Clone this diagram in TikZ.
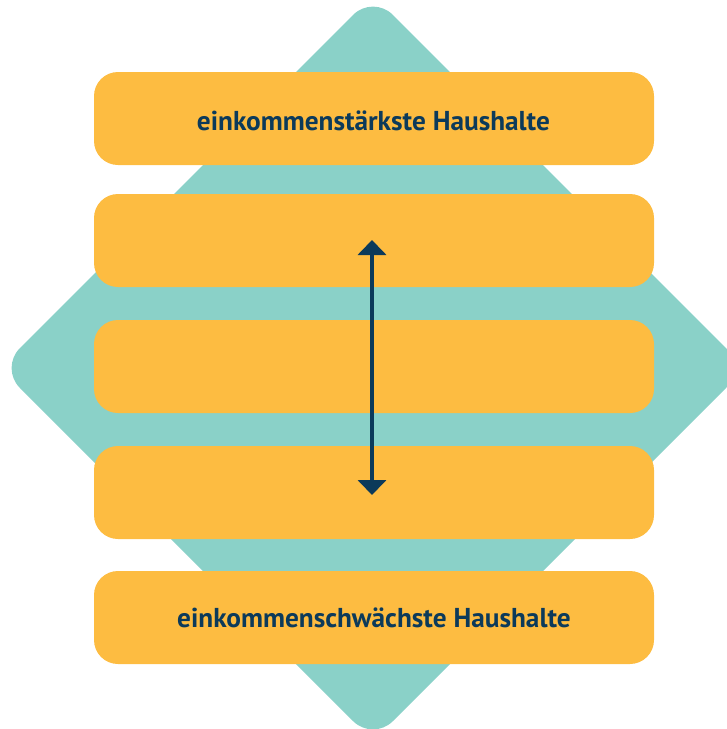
\documentclass[tikz,border=0pt]{standalone}
\usepackage{fontspec}
\setmainfont{PT Sans}
\usetikzlibrary{arrows.meta}
\definecolor{teal}{HTML}{8AD1C8}
\definecolor{orng}{HTML}{FDBC41}
\definecolor{navy}{HTML}{0C3A5A}
\tikzset{
  bar/.style={fill=orng, draw=none, rounded corners=24pt, minimum width=560pt, minimum height=93pt, inner sep=0pt},
  lbl/.style={text=navy, font=\fontsize{27.3}{32}\selectfont\bfseries, inner sep=0pt},
  arr/.style={navy, line width=4pt, {Triangle[width=28pt,length=15pt]}-{Triangle[width=28pt,length=15pt]}},
}
\begin{document}
\begin{tikzpicture}[x=1pt,y=-1pt]
\useasboundingbox (0,0) rectangle (727,729);
\begin{scope}
\clip (0,0) rectangle (727,729);
\fill[teal, rounded corners=28pt] (373,-5) -- (746,368) -- (373,741) -- (0,368) -- cycle;
\end{scope}
\node[bar] (b1) at (374,118.5) {};
\node[bar] (b2) at (374,240.5) {};
\node[bar] (b3) at (374,366.5) {};
\node[bar] (b4) at (374,492.5) {};
\node[bar] (b5) at (374,617.5) {};
\node[lbl] (t1) at (373.5,121) {einkommenstärkste Haushalte};
\node[lbl] (t5) at (374,618) {einkommenschwächste Haushalte};
\coordinate (top) at (372,240);
\coordinate (bot) at (372,495);
\draw[arr] (top) -- (bot);
\end{tikzpicture}
\end{document}
